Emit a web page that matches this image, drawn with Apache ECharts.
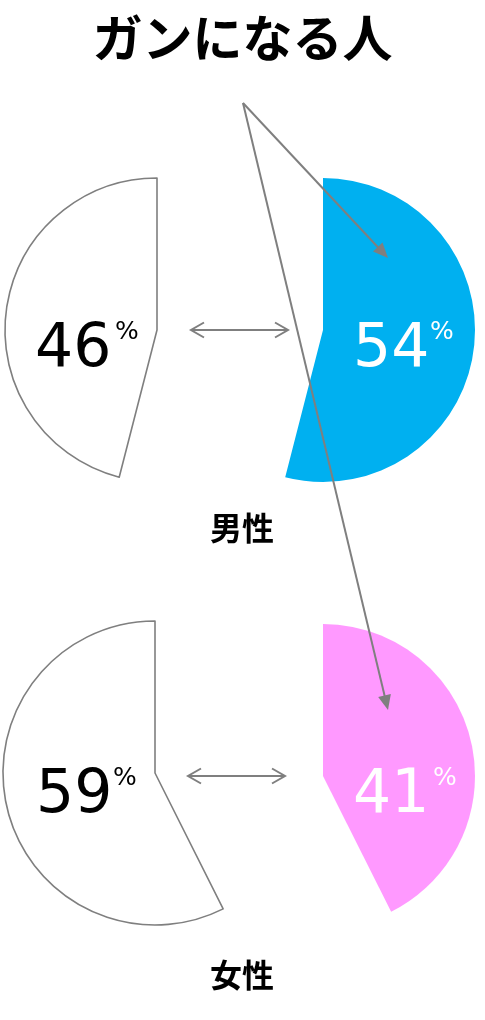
<!DOCTYPE html>
<html>
<head>
<meta charset="utf-8">
<script src="https://cdn.jsdelivr.net/npm/echarts@6/dist/echarts.min.js"></script>
<style>
html,body{margin:0;padding:0;background:#fff;}
#main{width:485px;height:1020px;}
</style>
</head>
<body>
<div id="main"></div>
<script>
// ---- data ----
const titleText = 'ガンになる人';
const groups = ['男性', '女性'];
const whiteLabels = [46, 59];      // % shown on white half
const colorLabels = [54, 41];      // % shown on coloured half
const colorShares = [54, 42.6];    // slice sizes as drawn
const whiteShares = [46, 57.4];
const colors = ['#00B0F0', '#FF99FF'];

// ---- layout ----
const R = 152;
const rows = [
  { left: [157, 330], right: [323, 330], labelY: 528 },
  { left: [155, 773], right: [323, 776], labelY: 975 }
];
const gray = '#7F7F7F';

const series = [];
rows.forEach((row, i) => {
  series.push({
    type: 'pie', center: row.left, radius: [0, R], startAngle: 90, clockwise: true,
    silent: true, animation: false, label: { show: false }, labelLine: { show: false },
    data: [
      { name: 'c', value: colorShares[i], itemStyle: { color: 'rgba(0,0,0,0)', borderWidth: 0 } },
      { name: 'w', value: whiteShares[i], itemStyle: { color: '#fff', borderColor: gray, borderWidth: 1.6 } }
    ]
  });
  series.push({
    type: 'pie', center: row.right, radius: [0, R], startAngle: 90, clockwise: true,
    silent: true, animation: false, label: { show: false }, labelLine: { show: false },
    data: [
      { name: 'c', value: colorShares[i], itemStyle: { color: colors[i], borderWidth: 0 } },
      { name: 'w', value: whiteShares[i], itemStyle: { color: 'rgba(0,0,0,0)', borderWidth: 0 } }
    ]
  });
});

const graphic = [];
const numFont = 'DejaVu Sans, Verdana, sans-serif';
function pctLabel(x, y, value, color, pctX) {
  graphic.push({ type: 'text', x: x, y: y, z: 10,
    style: { text: String(value), fill: color, font: '60px ' + numFont, textAlign: 'left', textVerticalAlign: 'middle' } });
  graphic.push({ type: 'text', x: pctX, y: y - 18, z: 10,
    style: { text: '%', fill: color, font: '25px ' + numFont, textAlign: 'left', textVerticalAlign: 'middle' } });
}
pctLabel(35, 350, whiteLabels[0], '#000', 115);
pctLabel(353, 350, colorLabels[0], '#fff', 430);
pctLabel(36, 796, whiteLabels[1], '#000', 113);
pctLabel(353, 796, colorLabels[1], '#fff', 433);

// double-headed arrows
function dblArrow(x1, x2, y) {
  const st = { stroke: gray, lineWidth: 2, fill: null };
  graphic.push({ type: 'line', z: 5, shape: { x1: x1, y1: y, x2: x2, y2: y }, style: st });
  graphic.push({ type: 'polyline', z: 5, shape: { points: [[x1 + 13, y - 7.5], [x1, y], [x1 + 13, y + 7.5]] }, style: st });
  graphic.push({ type: 'polyline', z: 5, shape: { points: [[x2 - 13, y - 7.5], [x2, y], [x2 - 13, y + 7.5]] }, style: st });
}
dblArrow(191, 288, 330);
dblArrow(188, 285, 776);

// pointer arrows
function pointer(x1, y1, x2, y2) {
  const dx = x2 - x1, dy = y2 - y1, L = Math.hypot(dx, dy);
  const ux = dx / L, uy = dy / L, px = -uy, py = ux;
  const hl = 15, hw = 6.5;
  const bx = x2 - ux * hl, by = y2 - uy * hl;
  graphic.push({ type: 'line', z: 20, shape: { x1: x1, y1: y1, x2: bx + ux * 2, y2: by + uy * 2 }, style: { stroke: gray, lineWidth: 2 } });
  graphic.push({ type: 'polygon', z: 20, shape: { points: [[x2, y2], [bx + px * hw, by + py * hw], [bx - px * hw, by - py * hw]] }, style: { fill: gray } });
}
pointer(243, 103, 388, 258);
pointer(243, 103, 388, 710);

// group labels
rows.forEach((row, i) => {
  graphic.push({ type: 'text', x: 242, y: row.labelY, z: 10,
    style: { text: groups[i], fill: '#000', font: 'bold 32px "Noto Sans CJK JP", sans-serif', textAlign: 'center', textVerticalAlign: 'middle' } });
});

const chart = echarts.init(document.getElementById('main'), null, { renderer: 'canvas' });
chart.setOption({
  backgroundColor: '#fff',
  animation: false,
  title: {
    text: titleText, left: 'center', top: 8,
    textStyle: { fontSize: 50, fontWeight: 'bold', color: '#000', fontFamily: '"Noto Sans CJK JP", sans-serif' }
  },
  series: series,
  graphic: graphic
});
</script>
</body>
</html>
